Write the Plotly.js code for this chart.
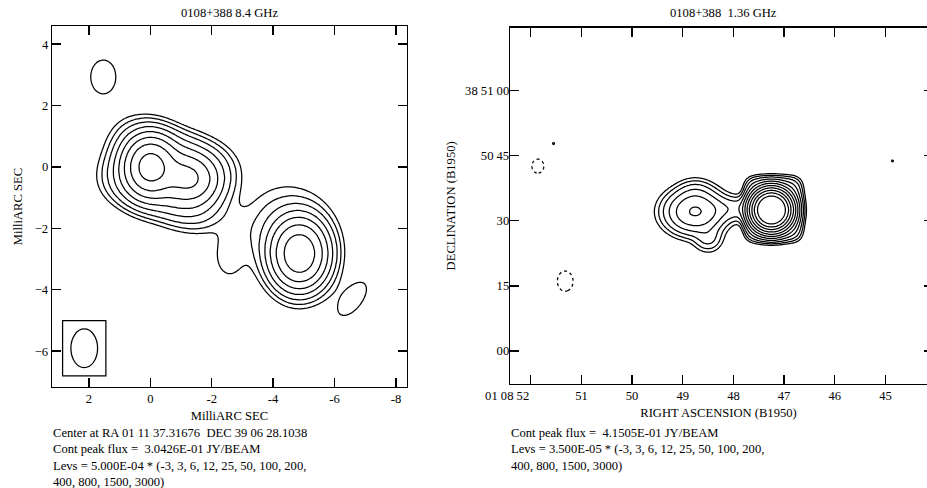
<!DOCTYPE html>
<html>
<head>
<meta charset="utf-8">
<script src="https://cdn.plot.ly/plotly-3.0.1.min.js"></script>
<style>
html,body{margin:0;padding:0;overflow:hidden;background:#fff;}
#chart{width:927px;height:488px;}
</style>
</head>
<body>
<div id="chart"></div>
<script>
// ---------------- DATA ----------------
const levelMultipliers = [-3, 3, 6, 12, 25, 50, 100, 200, 400, 800, 1500, 3000];
const leftLevelUnit = 5.000e-4;
const rightLevelUnit = 3.500e-5;
const leftPeakFlux = 3.0426e-1;
const rightPeakFlux = 4.1505e-1;
const leftTitle = "0108+388 8.4 GHz";
const rightTitle = "0108+388\u00a0\u00a01.36 GHz";
const leftCenterText = "Center at RA 01 11 37.31676\u00a0\u00a0DEC 39 06 28.1038";

// Left map (8.4 GHz) components: offsets in mas, peak in Jy/beam
//                   core   jet     envelope second  secHalo  bridge  lobe    blobNE  blobSW
const leftCompX   = [0.00,  -1.20,  -0.60,  -4.86,  -4.40,  -2.80,  -2.55,  1.53,   -6.58];
const leftCompY   = [0.00,  -0.35,  -0.25,  -2.83,  -2.10,  -1.90,  -2.90,  2.93,   -4.30];
const leftCompAmp = [0.250, 0.090,  0.040,  0.170,  0.006,  0.0010, 0.0022, 0.00275, 0.0022];
const leftCompSx  = [0.42,  0.50,   1.22,   0.47,   0.80,   0.35,   0.38,   0.37,   0.72];
const leftCompSy  = [0.48,  0.40,   0.89,   0.58,   0.85,   0.45,   0.60,   0.50,   0.36];
const leftCompPA  = [0,     15,     20,     0,      0,      0,      0,      0,      127.5];
const leftCompP   = [2,     2,      3,      2,      2,      2,      2,      2,      2];

// Restoring beam of the left map (FWHM in mas) and its centre
const beamWidth = 0.87, beamHeight = 1.26;
const beamCenter = [2.15, -5.91];

// Right map (1.36 GHz): RA seconds (01 08 ss), Dec offset in arcsec from 38 50 00
//                    core    box     west    lobeS   bridge  bumpN   speck1    speck2    neg1       neg2
const rightCompX   = [47.25,  47.21,  48.76,  48.50,  47.95,  48.75,  51.55,    44.86,    51.86,     51.32];
const rightCompY   = [32.5,   32.7,   32.1,   26.0,   32.8,   36.5,   47.8,     43.8,     42.6,      16.1];
const rightCompAmp = [0.405,  0.0018, 0.0037, 0.0005, 0.0006, 0.0004, 0.000122, 0.000122, -0.000168, -0.000168];
const rightCompSx  = [0.166,  0.43,   0.30,   0.16,   0.35,   0.20,   0.036,    0.036,    0.122,     0.160];
const rightCompSy  = [1.94,   5.6,    2.6,    1.8,    1.6,    1.8,    0.42,     0.42,     1.66,      2.40];
const rightCompP   = [2,      5,      2,      2,      2,      2,      2,        2,        2,         2];

// Axis ticks
const leftXTicks = [2, 0, -2, -4, -6, -8];
const leftXTickText = ["2", "0", "-2", "-4", "-6", "-8"];
const leftYTicks = [4, 2, 0, -2, -4, -6];
const leftYTickText = ["4", "2", "0", "\u22122", "\u22124", "\u22126"];
const rightXTicks = [52, 51, 50, 49, 48, 47, 46, 45];
const rightXTickText = ["01 08 52", "51", "50", "49", "48", "47", "46", "45"];
const rightYTicks = [60, 45, 30, 15, 0];
const rightYTickText = ["38 51 00", "50 45", "30", "15", "00"];

// ---------------- MODEL GRID ----------------
function makeGrid(x0, x1, nx, y0, y1, ny, cx, cy, amp, sx, sy, pa, p) {
  const xs = [], ys = [];
  for (let i = 0; i < nx; i++) xs.push(x0 + (x1 - x0) * i / (nx - 1));
  for (let j = 0; j < ny; j++) ys.push(y0 + (y1 - y0) * j / (ny - 1));
  const z = [];
  const cs = pa.map(a => Math.cos(a * Math.PI / 180));
  const sn = pa.map(a => Math.sin(a * Math.PI / 180));
  for (let j = 0; j < ny; j++) {
    const row = new Array(nx);
    for (let i = 0; i < nx; i++) {
      let v = 0;
      for (let k = 0; k < cx.length; k++) {
        const dx = xs[i] - cx[k], dy = ys[j] - cy[k];
        const u = (dx * cs[k] + dy * sn[k]) / sx[k];
        const w = (-dx * sn[k] + dy * cs[k]) / sy[k];
        const q = Math.pow(Math.abs(u), p[k]) + Math.pow(Math.abs(w), p[k]);
        if (q < 60) v += amp[k] * Math.exp(-0.5 * q);
      }
      row[i] = v;
    }
    z.push(row);
  }
  return {xs, ys, z};
}

// map values onto the level index so evenly spaced Plotly contours fall on the listed levels
function levelIndex(z, unit) {
  const lv = levelMultipliers.filter(m => m > 0).map(m => m * unit);
  return z.map(row => row.map(v => {
    if (v < lv[0]) return v / lv[0];
    for (let i = 0; i < lv.length - 1; i++) {
      if (v < lv[i + 1]) return i + 1 + (v - lv[i]) / (lv[i + 1] - lv[i]);
    }
    const n = lv.length;
    return n + (v - lv[n - 1]) / (lv[n - 1] - lv[n - 2]);
  }));
}
function negIndex(z, unit) {
  const neg = -levelMultipliers.filter(m => m < 0)[0] * unit;
  return z.map(row => row.map(v => -v / neg));
}
const nPos = levelMultipliers.filter(m => m > 0).length;

const L = makeGrid(-8.6, 3.4, 300, -7.4, 4.8, 305,
  leftCompX, leftCompY, leftCompAmp, leftCompSx, leftCompSy, leftCompPA, leftCompP);
const R = makeGrid(44.1, 52.5, 425, -8, 75, 365,
  rightCompX, rightCompY, rightCompAmp, rightCompSx, rightCompSy, rightCompX.map(() => 0), rightCompP);

function contourTrace(g, zt, xa, ya, start, end, dash) {
  return {
    type: 'contour', x: g.xs, y: g.ys, z: zt, xaxis: xa, yaxis: ya,
    autocontour: false,
    contours: {start: start, end: end, size: 1, coloring: 'none'},
    line: {color: '#000', width: 1.25, smoothing: 0.8, dash: dash},
    showscale: false, hoverinfo: 'skip'
  };
}

const traces = [
  contourTrace(L, levelIndex(L.z, leftLevelUnit), 'x', 'y', 1, nPos, 'solid'),
  contourTrace(L, negIndex(L.z, leftLevelUnit), 'x', 'y', 1, 1, '3px,3px'),
  contourTrace(R, levelIndex(R.z, rightLevelUnit), 'x2', 'y2', 1, nPos, 'solid'),
  contourTrace(R, negIndex(R.z, rightLevelUnit), 'x2', 'y2', 1, 1, '3px,3px'),
  {type: 'scatter', x: [], y: [], xaxis: 'x2', yaxis: 'y3', hoverinfo: 'skip', showlegend: false}
];

// ---------------- LAYOUT ----------------
const W = 927, H = 488;
const FONT = 'Liberation Serif, Times New Roman, serif';
const FS = 12.6;
function fmtE(v, d) {
  const s = v.toExponential(d).split('e');
  const e = parseInt(s[1], 10);
  return s[0] + 'E' + (e < 0 ? '-' : '+') + String(Math.abs(e)).padStart(2, '0');
}
function levsText(unit) {
  return 'Levs = ' + fmtE(unit, 3) + ' * (' + levelMultipliers.slice(0, 8).join(', ') + ',<br>' +
    levelMultipliers.slice(8).join(', ') + ')';
}

const axisCommon = {
  showline: true, linecolor: '#000', linewidth: 1.3, mirror: 'ticks',
  ticks: 'inside', ticklen: 9, tickwidth: 1.3, tickcolor: '#000',
  showgrid: false, zeroline: false, tickmode: 'array', tickangle: 0,
  tickfont: {family: FONT, size: FS, color: '#000'}
};

const rightYRange = [-7.6, 74.5];
const pad = 0.27;
const layout = {
  width: W, height: H,
  margin: {l: 0, r: 0, t: 0, b: 0},
  paper_bgcolor: '#fff', plot_bgcolor: '#fff',
  showlegend: false,
  font: {family: FONT, size: FS, color: '#000'},
  xaxis: Object.assign({}, axisCommon, {
    domain: [52 / W, 407 / W], range: [3.2, -8.36], anchor: 'y',
    tickvals: leftXTicks, ticktext: leftXTickText,
    title: {text: 'MilliARC SEC', font: {family: FONT, size: FS}, standoff: 5}
  }),
  yaxis: Object.assign({}, axisCommon, {
    domain: [1 - 387 / H, 1 - 26 / H], range: [-7.17, 4.59], anchor: 'x',
    tickvals: leftYTicks, ticktext: leftYTickText,
    title: {text: 'MilliARC SEC', font: {family: FONT, size: FS}, standoff: 9}
  }),
  xaxis2: Object.assign({}, axisCommon, {
    domain: [510 / W, 1], range: [52.41, 44.18], anchor: 'y2',
    tickvals: rightXTicks,
    ticktext: rightXTickText.map((t, i) => i === 0 ? t + '\u00a0'.repeat(15) : t),
    title: {text: 'RIGHT ASCENSION (B1950)', font: {family: FONT, size: FS}, standoff: 5}
  }),
  yaxis2: Object.assign({}, axisCommon, {
    domain: [1 - 384 / H, 1 - 27.7 / H], range: rightYRange, anchor: 'x2', mirror: false,
    tickvals: rightYTicks, ticktext: rightYTickText, ticklabelstandoff: -3,
    title: {text: 'DECLINATION (B1950)', font: {family: FONT, size: FS}, standoff: 6}
  }),
  yaxis3: {
    overlaying: 'y2', anchor: 'x2', side: 'right', range: rightYRange,
    tickmode: 'array', tickvals: rightYTicks, ticks: 'inside', ticklen: 3, tickwidth: 1.3,
    tickcolor: '#000', showticklabels: false, showline: false, showgrid: false, zeroline: false
  },
  shapes: [
    {type: 'rect', xref: 'x', yref: 'y',
     x0: beamCenter[0] + beamWidth / 2 + pad, x1: beamCenter[0] - beamWidth / 2 - pad,
     y0: beamCenter[1] - beamHeight / 2 - pad, y1: beamCenter[1] + beamHeight / 2 + pad,
     line: {color: '#000', width: 1.25}},
    {type: 'circle', xref: 'x', yref: 'y',
     x0: beamCenter[0] + beamWidth / 2, x1: beamCenter[0] - beamWidth / 2,
     y0: beamCenter[1] - beamHeight / 2, y1: beamCenter[1] + beamHeight / 2,
     line: {color: '#000', width: 1.25}}
  ],
  annotations: [
    {text: leftTitle, xref: 'paper', yref: 'paper', x: 229.5 / W, y: 1 - 12.5 / H,
     xanchor: 'center', yanchor: 'middle', showarrow: false, font: {family: FONT, size: FS}},
    {text: rightTitle, xref: 'paper', yref: 'paper', x: 723 / W, y: 1 - 12.5 / H,
     xanchor: 'center', yanchor: 'middle', showarrow: false, font: {family: FONT, size: FS}},
    {text: leftCenterText + '<br>Cont peak flux =\u00a0\u00a0' + fmtE(leftPeakFlux, 4) + ' JY/BEAM<br>' + levsText(leftLevelUnit),
     xref: 'paper', yref: 'paper', x: 51 / W, y: 1 - 424 / H, xanchor: 'left', yanchor: 'top',
     align: 'left', showarrow: false, font: {family: FONT, size: FS}},
    {text: 'Cont peak flux =\u00a0\u00a0' + fmtE(rightPeakFlux, 4) + ' JY/BEAM<br>' + levsText(rightLevelUnit),
     xref: 'paper', yref: 'paper', x: 509 / W, y: 1 - 424 / H, xanchor: 'left', yanchor: 'top',
     align: 'left', showarrow: false, font: {family: FONT, size: FS}}
  ]
};

Plotly.newPlot('chart', traces, layout, {staticPlot: true, displayModeBar: false});
</script>
</body>
</html>
